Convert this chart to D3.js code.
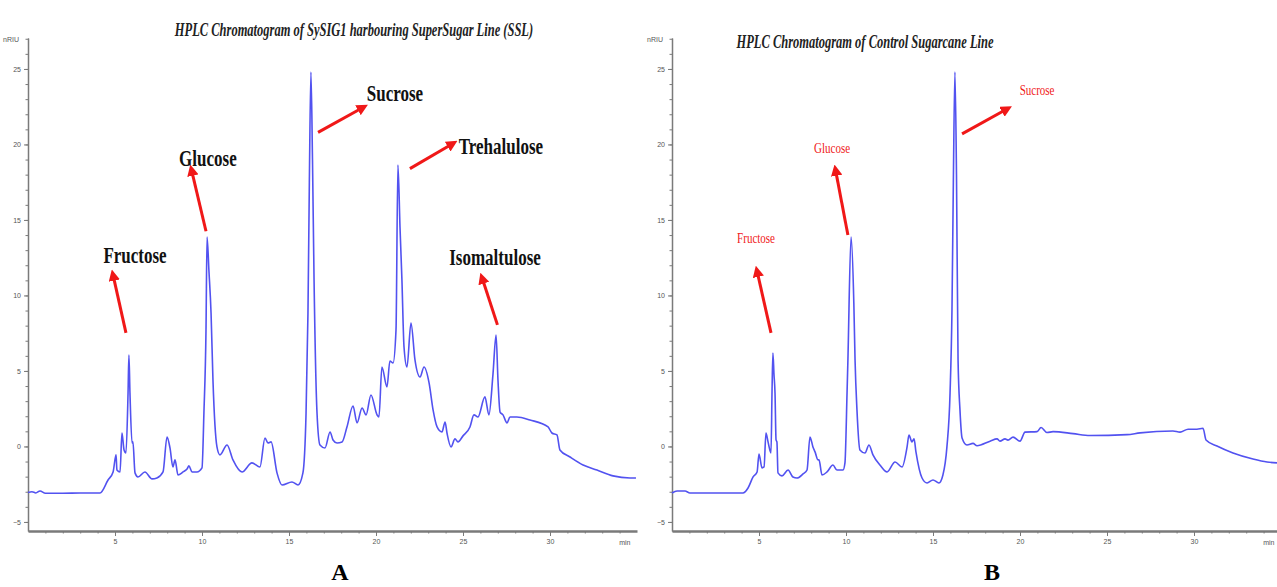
<!DOCTYPE html>
<html>
<head>
<meta charset="utf-8">
<script src="https://cdn.jsdelivr.net/npm/d3@7"></script>
<style>
  body { margin: 0; background: #fff; }
  svg { display: block; }
  .axis path, .axis line { stroke: #7a7a7a; }
  .axis text { font-family: "Liberation Sans", sans-serif; font-size: 7px; fill: #555; }
</style>
</head>
<body>
<div id="chart"></div>
<script>
const traceA = [
  [0,-3.05],[0.23,-3.0],[0.45,-3.08],[0.69,-2.95],[1.0,-3.1],[2.0,-3.1],[3.0,-3.08],[4.14,-3.08],
  [4.6,-2.22],[4.89,-1.69],[5.06,-0.56],[5.11,-1.56],[5.29,-1.69],[5.4,0.89],[5.52,-0.23],[5.63,-0.43],
  [5.75,3.54],[5.8,6.06],[5.86,3.54],[5.98,0.23],[6.03,0.30],[6.15,-1.75],[6.32,-2.02],[6.72,-1.69],
  [7.13,-2.15],[7.41,-2.09],[7.76,-1.69],[7.99,0.63],[8.16,-0.10],[8.33,-1.36],[8.45,-0.89],[8.62,-1.89],
  [8.91,-1.69],[9.14,-1.49],[9.25,-1.29],[9.43,-1.69],[9.71,-1.69],[10.0,-1.42],[10.11,2.22],[10.23,7.72],
  [10.29,13.87],[10.4,11.6],[10.52,8.84],[10.63,4.40],[10.86,-0.03],[11.03,-0.56],[11.44,0.10],[11.78,-0.89],
  [12.3,-1.69],[12.87,-1.09],[13.33,-1.36],[13.62,0.56],[13.79,0.23],[13.97,0.30],[14.31,-1.75],[14.6,-2.55],
  [15.17,-2.35],[15.52,-2.55],[15.8,-1.75],[15.98,2.22],[16.09,8.84],[16.17,17.5],[16.26,24.8],[16.35,19.0],
  [16.44,11.03],[16.61,2.22],[16.78,0.10],[17.07,-0.10],[17.36,0.96],[17.53,0.43],[17.76,0.23],[18.05,0.30],
  [18.33,1.29],[18.68,2.68],[18.91,1.56],[19.2,2.55],[19.43,2.09],[19.71,3.41],[20.06,2.09],[20.17,1.95],
  [20.34,5.26],[20.63,3.94],[20.8,5.66],[20.98,5.53],[21.15,7.72],[21.26,18.64],[21.38,14.5],[21.49,11.03],
  [21.61,6.59],[21.78,5.26],[22.01,8.18],[22.24,5.73],[22.53,4.60],[22.76,5.26],[23.05,4.21],[23.28,2.42],
  [23.51,1.29],[23.79,0.96],[23.97,1.62],[24.08,0.89],[24.31,-0.03],[24.54,0.50],[24.71,0.30],[25.0,0.70],
  [25.4,1.29],[25.63,2.09],[25.86,1.95],[26.26,3.28],[26.49,2.09],[26.72,4.74],[26.9,7.38],[27.01,4.40],
  [27.13,2.28],[27.3,2.09],[27.53,1.56],[27.7,1.95],[28.1,1.95],[28.85,1.75],[29.89,1.29],[30.11,0.89],
  [30.4,0.76],[30.57,-0.23],[31.15,-0.70],[31.9,-1.23],[32.7,-1.56],[33.62,-1.95],[34.6,-2.09],[34.94,-2.09]
];

const traceB = [
  [0,-3.08],[0.29,-2.95],[0.75,-2.95],[1.03,-3.08],[1.61,-3.08],[4.08,-3.08],[4.37,-2.75],[4.66,-2.02],
  [4.89,-1.69],[5.0,-0.50],[5.17,-1.42],[5.29,-1.36],[5.4,0.89],[5.52,0.30],[5.69,-0.43],[5.75,3.74],
  [5.8,6.19],[5.86,4.8],[5.92,3.54],[5.98,0.43],[6.03,0.30],[6.09,-1.75],[6.32,-1.95],[6.67,-1.56],
  [6.95,-2.02],[7.18,-2.09],[7.53,-1.82],[7.76,-1.56],[7.93,0.63],[8.1,-0.03],[8.22,-0.36],[8.39,-0.89],
  [8.45,-0.89],[8.62,-1.89],[8.91,-1.69],[9.25,-1.23],[9.48,-1.56],[9.83,-1.56],[9.94,-1.09],[10.06,3.54],
  [10.11,5.73],[10.29,13.87],[10.45,9.5],[10.52,5.73],[10.63,2.42],[10.8,-0.23],[11.09,-0.43],[11.32,0.10],
  [11.55,-0.56],[11.95,-1.23],[12.36,-1.69],[12.82,-1.03],[13.22,-1.36],[13.51,-0.03],[13.62,0.76],[13.79,0.30],
  [13.91,0.50],[14.02,-0.36],[14.37,-2.09],[14.66,-2.42],[15.0,-2.22],[15.34,-2.42],[15.57,-1.89],[15.8,-0.03],
  [15.98,3.54],[16.09,9.0],[16.17,17.5],[16.26,24.8],[16.35,18.0],[16.44,5.73],[16.55,2.42],[16.67,0.56],
  [16.95,0.10],[17.3,0.20],[17.53,0.05],[18.28,0.35],[18.68,0.50],[18.85,0.35],[19.14,0.50],[19.31,0.42],
  [19.6,0.62],[20.0,0.35],[20.29,0.95],[20.98,0.98],[21.21,1.25],[21.55,0.92],[21.9,0.98],[23.05,0.85],
  [24.02,0.72],[26.15,0.78],[26.9,0.90],[28.79,1.02],[29.2,0.95],[29.66,1.14],[30.17,1.14],[30.52,1.20],
  [30.69,0.43],[31.32,0.03],[32.24,-0.43],[33.39,-0.83],[34.2,-1.03],[34.77,-1.09]
];

const yTicks = [25, 20, 15, 10, 5, 0, -5];
const xTicks = [5, 10, 15, 20, 25, 30];

// Etiquetas de picos: [texto, x, y, flecha desde (t,v), flecha hasta (t,v)]
const peaksA = [
  ["Fructose", 6.15, 12.68, 5.63, 7.52, 4.89, 11.35],
  ["Glucose", 10.34, 19.1, 10.23, 14.25, 9.4, 18.3],
  ["Sucrose", 21.09, 23.4, 16.67, 20.8, 19.25, 22.45],
  ["Trehalulose", 27.18, 19.9, 21.95, 18.4, 24.4, 20.05],
  ["Isomaltulose", 26.84, 12.55, 26.98, 8.05, 26.1, 11.15]
];
const peaksB = [
  ["Fructose", 4.83, 13.8, 5.69, 7.52, 4.89, 11.6],
  ["Glucose", 9.2, 19.77, 10.11, 14.0, 9.4, 18.3],
  ["Sucrose", 20.98, 23.6, 16.67, 20.7, 19.25, 22.35]
];

const titleA = "HPLC Chromatogram of SySIG1 harbouring SuperSugar Line (SSL)";
const titleB = "HPLC Chromatogram of Control Sugarcane Line";

const W = 1277, H = 587;
const svg = d3.select("#chart").append("svg")
  .attr("width", W).attr("height", H);

const defs = svg.append("defs");
defs.append("marker")
  .attr("id", "head")
  .attr("viewBox", "0 0 10 10")
  .attr("refX", 5).attr("refY", 5)
  .attr("markerWidth", 3.8).attr("markerHeight", 3.8)
  .attr("markerUnits", "strokeWidth")
  .attr("orient", "auto")
  .append("path")
  .attr("d", "M0,0 L10,5 L0,10 z")
  .attr("fill", "#f01818");

// Escala vertical comun a ambos paneles
const y = d3.scaleLinear().domain([-5.6, 27.05]).range([531, 38]);

function drawPanel(trace, peaks, x0, x1, title, titleX, titleY, big, letter) {
  const x = d3.scaleLinear().domain([0, 35]).range([x0, x1]);
  const g = svg.append("g");

  // eje y: marcas menores
  g.append("g")
    .attr("class", "axis")
    .attr("transform", "translate(" + x0 + ",0)")
    .call(d3.axisLeft(y).tickValues(d3.range(-5, 28, 1)).tickSize(2.5).tickSizeOuter(0).tickFormat(""));
  // eje y: marcas principales
  const ya = g.append("g")
    .attr("class", "axis")
    .attr("transform", "translate(" + x0 + ",0)")
    .call(d3.axisLeft(y).tickValues(yTicks).tickSize(4).tickSizeOuter(0));
  ya.select(".domain").attr("stroke-width", 1.5);
  ya.append("text")
    .attr("x", -9).attr("y", 42)
    .attr("text-anchor", "end")
    .text("nRIU");

  // eje x
  const xa = g.append("g")
    .attr("class", "axis")
    .attr("transform", "translate(0,531)")
    .call(d3.axisBottom(x).tickValues(d3.range(1, 35, 1)).tickSize(2.5).tickSizeOuter(0).tickFormat(""));
  xa.select(".domain").attr("stroke-width", 2.5);
  const xm = g.append("g")
    .attr("class", "axis")
    .attr("transform", "translate(0,531)")
    .call(d3.axisBottom(x).tickValues(xTicks).tickSize(5).tickSizeOuter(0));
  xm.select(".domain").remove();
  xm.append("text")
    .attr("x", x(34.3)).attr("y", 14)
    .attr("text-anchor", "middle")
    .text("min");

  // traza
  const line = d3.line()
    .x(d => x(d[0]))
    .y(d => y(d[1]))
    .curve(d3.curveMonotoneX);
  g.append("path")
    .datum(trace)
    .attr("fill", "none")
    .attr("stroke", "#5252f0")
    .attr("stroke-width", 1.6)
    .attr("stroke-linejoin", "round")
    .attr("d", line);

  // flechas
  g.selectAll(".arrow")
    .data(peaks)
    .enter().append("line")
    .attr("class", "arrow")
    .attr("x1", d => x(d[3])).attr("y1", d => y(d[4]))
    .attr("x2", d => x(d[5])).attr("y2", d => y(d[6]))
    .attr("stroke", "#f01818")
    .attr("stroke-width", 3)
    .attr("marker-end", "url(#head)");

  // etiquetas de picos
  g.selectAll(".lbl")
    .data(peaks)
    .enter().append("text")
    .attr("class", "lbl")
    .attr("transform", d => "translate(" + x(d[1]) + "," + y(d[2]) + ") scale(1,1.4)")
    .attr("text-anchor", "middle")
    .attr("dominant-baseline", "central")
    .style("font-family", "'Liberation Serif', serif")
    .style("font-weight", big ? "bold" : "normal")
    .style("font-size", big ? "17px" : "11px")
    .style("fill", big ? "#111" : "#f01818")
    .text(d => d[0]);

  // titulo
  g.append("text")
    .attr("transform", "translate(" + titleX + "," + titleY + ") scale(1,1.45)")
    .attr("text-anchor", "middle")
    .attr("dominant-baseline", "central")
    .style("font-family", "'Liberation Serif', serif")
    .style("font-weight", "bold")
    .style("font-style", "italic")
    .style("font-size", "12.5px")
    .style("fill", "#222")
    .text(title);

  // letra del panel
  g.append("text")
    .attr("x", letter[1]).attr("y", 572)
    .attr("text-anchor", "middle")
    .attr("dominant-baseline", "central")
    .style("font-family", "'Liberation Serif', serif")
    .style("font-weight", "bold")
    .style("font-size", "24px")
    .style("fill", "#000")
    .text(letter[0]);
}

drawPanel(traceA, peaksA, 28, 637, titleA, 354, 30, true, ["A", 340]);
drawPanel(traceB, peaksB, 672, 1281, titleB, 865, 42, false, ["B", 992]);
</script>
</body>
</html>
